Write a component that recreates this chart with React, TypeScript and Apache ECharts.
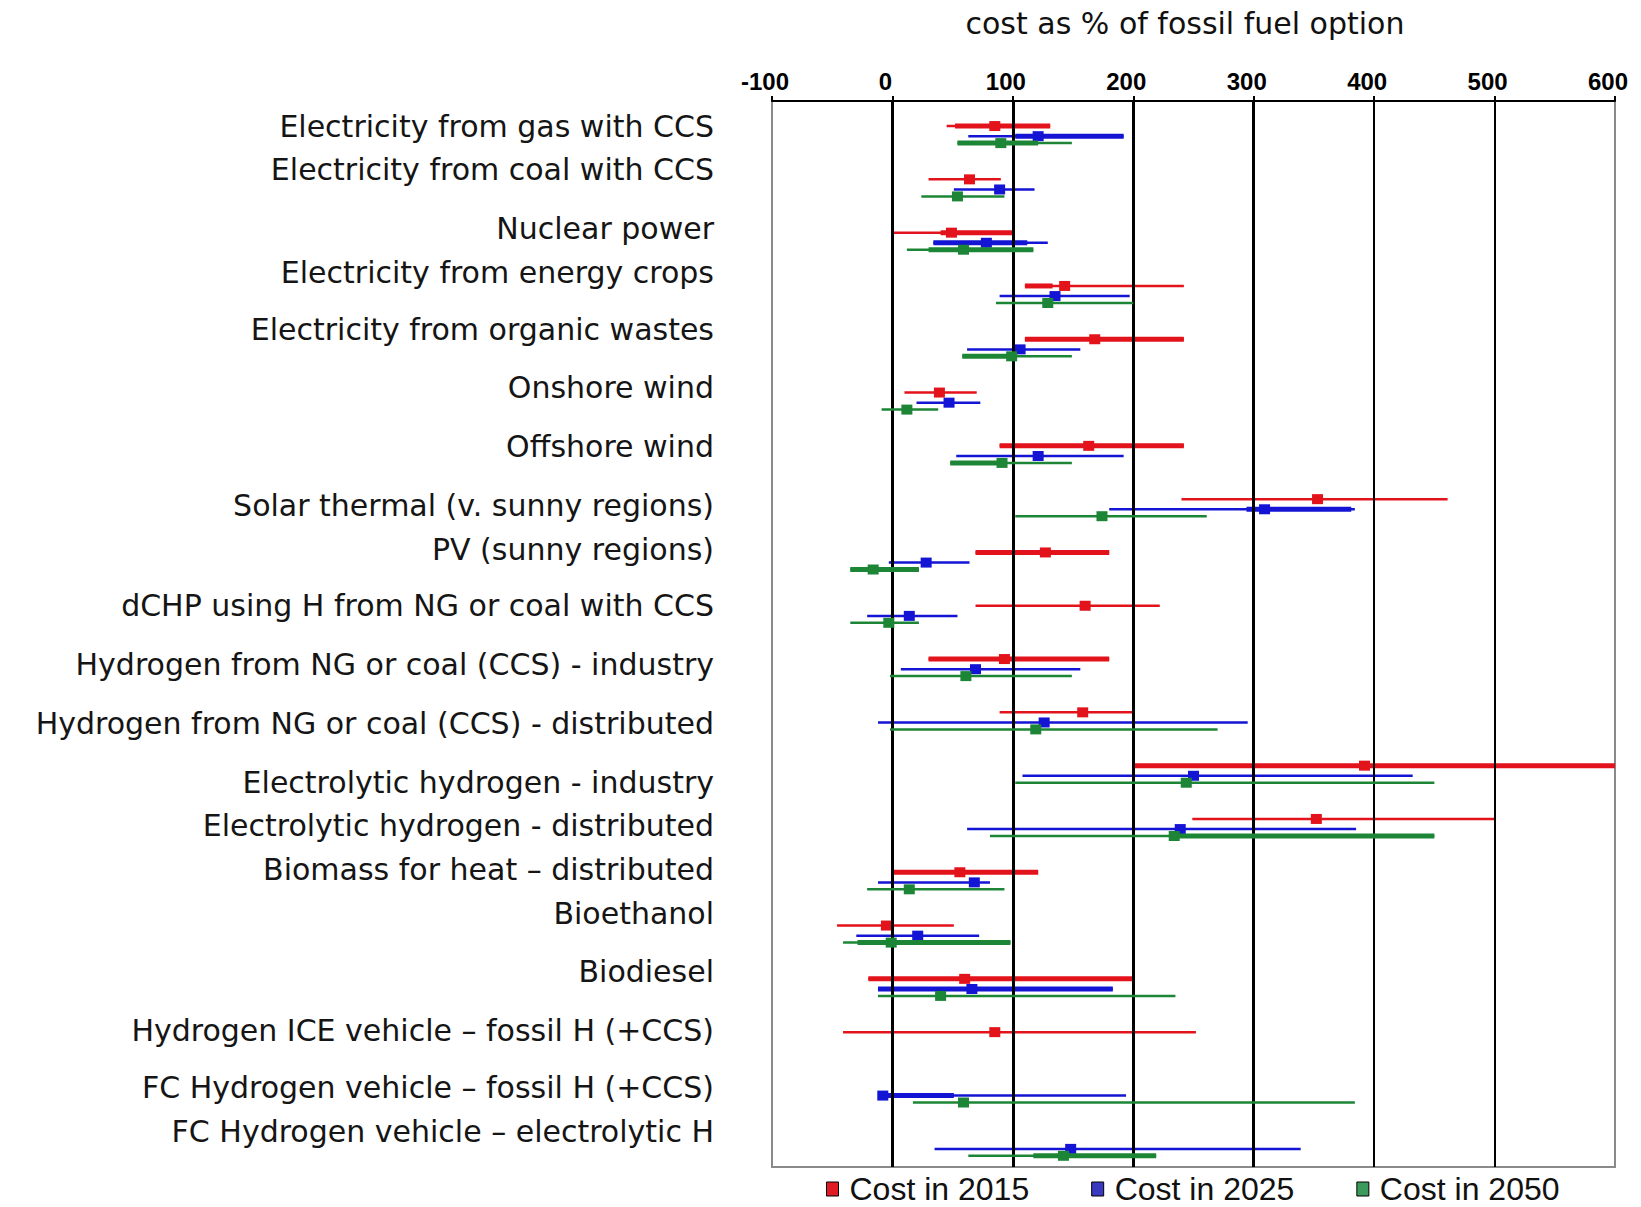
import React, { useEffect, useRef } from "react";
import * as echarts from "echarts";

// Row labels (top to bottom)
const categories = [
  "Electricity from gas with CCS",
  "Electricity from coal with CCS",
  "Nuclear power",
  "Electricity from energy crops",
  "Electricity from organic wastes",
  "Onshore wind",
  "Offshore wind",
  "Solar thermal (v. sunny regions)",
  "PV (sunny regions)",
  "dCHP using H from NG or coal with CCS",
  "Hydrogen from NG or coal (CCS) - industry",
  "Hydrogen from NG or coal (CCS) - distributed",
  "Electrolytic hydrogen - industry",
  "Electrolytic hydrogen - distributed",
  "Biomass for heat \u2013 distributed",
  "Bioethanol",
  "Biodiesel",
  "Hydrogen ICE vehicle \u2013 fossil H (+CCS)",
  "FC Hydrogen vehicle \u2013 fossil H (+CCS)",
  "FC Hydrogen vehicle \u2013 electrolytic H",
];

// label placement along the row scale (layout only)
const labelRows = [0, 0.81, 1.93, 2.75, 3.81, 4.91, 6.01, 7.11, 7.94, 9.0, 10.1, 11.2, 12.32, 13.12, 13.95, 14.77, 15.87, 16.97, 18.04, 18.86];

const xTicks = [-100, 0, 100, 200, 300, 400, 500, 600];
const seriesNames = ["Cost in 2015", "Cost in 2025", "Cost in 2050"];

// Cost in 2015
const low2015 = [45, 30, 0, 110, 110, 10, 89, 240, 69, 69, 30, 89, 200, 249, 0, -46, -20, -41, null, null];
const high2015 = [131, 90, 101, 242, 242, 70, 242, 461, 180, 222, 180, 201, 600, 500, 121, 51, 201, 252, null, null];
const mid2015 = [85, 64, 49, 143, 168, 39, 163, 353, 127, 160, 93, 158, 392, 352, 56, -5, 60, 85, null, null];
const thickLow2015 = [52, null, 40, 110, 110, null, 89, null, 69, null, 30, null, 200, null, 0, null, -20, null, null, null];
const thickHigh2015 = [131, null, 101, 133, 242, null, 242, null, 180, null, 180, null, 600, null, 121, null, 201, null, null, null];

// Cost in 2025
const low2025 = [63, 51, 34, 89, 62, 20, 53, 180, -3, -21, 7, -12, 108, 62, -12, -30, -12, null, -12, 35];
const high2025 = [192, 118, 129, 197, 156, 73, 192, 384, 64, 54, 156, 295, 432, 385, 81, 72, 183, null, 194, 339];
const mid2025 = [121, 89, 78, 135, 106, 47, 121, 309, 28, 14, 69, 126, 250, 239, 68, 21, 66, null, -8, 148];
const thickLow2025 = [102, null, 34, null, null, null, null, 294, null, null, null, null, null, null, null, null, -12, null, -12, null];
const thickHigh2025 = [192, null, 112, null, null, null, null, 381, null, null, null, null, null, null, null, null, 183, null, 51, null];

// Cost in 2050
const low2050 = [54, 24, 12, 86, 58, -9, 48, 102, -35, -35, -2, -2, 102, 81, -21, -41, -12, null, 17, 63];
const high2050 = [149, 93, 117, 200, 149, 38, 149, 261, 22, 22, 149, 270, 450, 450, 93, 98, 235, null, 384, 219];
const mid2050 = [90, 54, 59, 129, 99, 12, 91, 174, -16, -3, 61, 119, 244, 234, 14, -1, 40, null, 59, 142];
const thickLow2050 = [54, null, 30, null, 58, null, 48, null, -35, null, null, null, null, 234, null, -29, null, null, null, 117];
const thickHigh2050 = [121, null, 117, null, 98, null, 91, null, 22, null, null, null, null, 450, null, 98, null, null, null, 219];

const barColors = ["#e3131b", "#1414d4", "#1d8636"];
const legendColors = ["#e01b24", "#3a3ac0", "#3d9a5d"];
const rowOffsets = [0, 0.19, 0.32];

function buildData(lo: any[], hi: any[], mid: any[], tlo: any[], thi: any[]) {
  const out: any[] = [];
  lo.forEach((v, i) => {
    if (v === null) return;
    out.push([i, v, hi[i], mid[i], tlo[i] === null ? "-" : tlo[i], thi[i] === null ? "-" : thi[i]]);
  });
  return out;
}

function makeRender(offset: number, color: string) {
  return (params: any, api: any) => {
    const row = api.value(0) + offset;
    const lo = api.value(1);
    const hi = api.value(2);
    const mid = api.value(3);
    const tlo = api.value(4);
    const thi = api.value(5);
    const a = api.coord([lo, row]);
    const b = api.coord([hi, row]);
    const children: any[] = [
      {
        type: "line",
        shape: { x1: a[0], y1: a[1], x2: b[0], y2: b[1] },
        style: { stroke: color, lineWidth: 2.5 },
      },
    ];
    if (!isNaN(tlo) && !isNaN(thi)) {
      const c = api.coord([tlo, row]);
      const d = api.coord([thi, row]);
      children.push({
        type: "line",
        shape: { x1: c[0], y1: c[1], x2: d[0], y2: d[1] },
        style: { stroke: color, lineWidth: 5 },
      });
    }
    const m = api.coord([mid, row]);
    children.push({
      type: "rect",
      shape: { x: m[0] - 5.5, y: m[1] - 5, width: 11, height: 10 },
      style: { fill: color },
    });
    return { type: "group", children };
  };
}

export default function App() {
  const ref = useRef<HTMLDivElement>(null);
  useEffect(() => {
    if (!ref.current) return;
    const chart = echarts.init(ref.current, null, { renderer: "svg" });
    const lows = [low2015, low2025, low2050];
    const highs = [high2015, high2025, high2050];
    const mids = [mid2015, mid2025, mid2050];
    const tlows = [thickLow2015, thickLow2025, thickLow2050];
    const thighs = [thickHigh2015, thickHigh2025, thickHigh2050];
    const labelMap = new Map<number, string>();
    labelRows.forEach((r, i) => labelMap.set(r, categories[i]));

    const gridLines = xTicks
      .filter((v) => v > -100 && v < 600)
      .map((v) => ({
        xAxis: v,
        lineStyle: { color: "#000", width: v <= 300 ? 3 : 2, type: "solid" },
      }));

    const option: any = {
      animation: false,
      backgroundColor: "#fff",
      title: {
        text: "cost as % of fossil fuel option",
        left: 1180,
        top: 3,
        textAlign: "center",
        textStyle: { fontFamily: "DejaVu Sans", fontSize: 30, fontWeight: "normal", color: "#111" },
      },
      grid: {
        left: 772,
        right: 26,
        top: 101,
        bottom: 40,
        show: true,
        borderColor: "#8a8a8a",
        borderWidth: 2,
        backgroundColor: "transparent",
      },
      legend: {
        left: 821,
        top: 1168,
        itemWidth: 12,
        itemHeight: 14,
        itemGap: 62,
        textStyle: {
          fontFamily: "Liberation Sans",
          fontSize: 32,
          lineHeight: 32,
          color: "#111",
          padding: [0, 0, 0, 6],
        },
        data: seriesNames.map((n, i) => ({
          name: n,
          icon: "rect",
          itemStyle: { color: legendColors[i], borderColor: "#000", borderWidth: 1 },
        })),
      },
      xAxis: {
        type: "value",
        position: "top",
        min: -100,
        max: 600,
        interval: 100,
        axisLine: { show: true, onZero: false, lineStyle: { color: "#000", width: 2 } },
        axisTick: { show: true, length: 5, lineStyle: { color: "#000", width: 2 } },
        splitLine: { show: false },
        axisLabel: {
          margin: 8,
          padding: [0, 14, 0, 0],
          fontFamily: "'Liberation Sans Narrow', 'Liberation Sans', Arial",
          fontWeight: "bold",
          fontSize: 24,
          color: "#000",
        },
      },
      yAxis: {
        type: "value",
        inverse: true,
        min: -0.47,
        max: 19.53,
        axisLine: { show: false },
        axisTick: { show: false },
        splitLine: { show: false },
        axisLabel: {
          customValues: labelRows,
          formatter: (v: number) => labelMap.get(v) ?? "",
          margin: 58,
          fontFamily: "DejaVu Sans",
          fontSize: 30,
          color: "#151515",
        },
      },
      series: [
        {
          type: "line",
          name: "gridlines",
          data: [],
          silent: true,
          z: 1,
          markLine: {
            silent: true,
            symbol: "none",
            label: { show: false },
            data: gridLines,
          },
        },
        ...seriesNames.map((name, k) => ({
          type: "custom",
          name,
          z: 3 + k,
          itemStyle: { color: legendColors[k] },
          encode: { x: [1, 2, 3, 4, 5], y: 0 },
          renderItem: makeRender(rowOffsets[k], barColors[k]),
          data: buildData(lows[k], highs[k], mids[k], tlows[k], thighs[k]),
        })),
      ],
    };
    chart.setOption(option);
    return () => chart.dispose();
  }, []);
  return (
    <div
      ref={ref}
      style={{ position: "absolute", left: 0, top: 0, width: 1641, height: 1207 }}
    />
  );
}
